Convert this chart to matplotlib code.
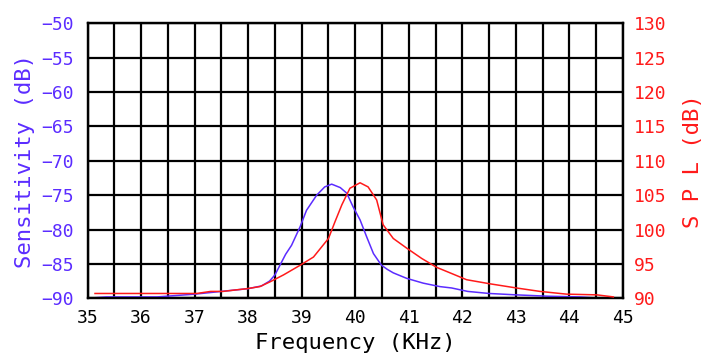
import numpy as np
import matplotlib.pyplot as plt
from matplotlib.ticker import MultipleLocator

freq_s = [35.0, 35.35, 36.3, 37.0, 37.5, 38.0, 38.25, 38.4, 38.5, 38.6, 38.7,
          38.81, 38.97, 39.09, 39.28, 39.43, 39.56, 39.72, 39.84, 39.96, 40.09,
          40.21, 40.34, 40.49, 40.6, 40.71, 40.96, 41.27, 41.58, 41.8, 42.1,
          42.5, 43.0, 43.6, 44.2, 44.6, 45.0]
sens = [-90.0, -89.8, -89.8, -89.4, -89.0, -88.6, -88.2, -87.5, -86.6, -85.1,
        -83.6, -82.3, -79.6, -77.2, -75.0, -73.8, -73.4, -73.9, -74.7, -76.7,
        -78.6, -81.0, -83.5, -85.2, -85.8, -86.3, -87.1, -87.8, -88.3, -88.5,
        -89.0, -89.3, -89.5, -89.7, -89.8, -90.0, -90.0]

freq_p = [35.14, 37.04, 37.3, 37.53, 37.75, 37.98, 38.22, 38.41, 38.66, 38.97,
          39.22, 39.5, 39.62, 39.75, 39.9, 40.09, 40.24, 40.4, 40.52, 40.71,
          40.96, 41.24, 41.52, 41.77, 42.08, 42.52, 43.01, 43.45, 43.95, 44.51,
          44.82]
spl = [90.7, 90.7, 91.0, 91.0, 91.2, 91.4, 91.7, 92.4, 93.4, 94.8,
       96.0, 98.7, 101.1, 103.6, 106.0, 106.8, 106.2, 104.3, 100.7, 98.7,
       97.3, 95.8, 94.5, 93.7, 92.7, 92.1, 91.5, 91.0, 90.6, 90.5,
       90.2]

blue = "#5b2cff"
red = "#ff1a1a"
mono = "DejaVu Sans Mono"

fig = plt.figure(figsize=(7.15, 3.58), dpi=100)
ax = fig.add_axes([0.1224, 0.1668, 0.7489, 0.7682])
ax2 = ax.twinx()

ax.plot(freq_s, sens, color=blue, lw=1.1, zorder=3)
ax2.plot(freq_p, spl, color=red, lw=1.1, zorder=3)

ax.set_xlim(35, 45)
ax.set_ylim(-90, -50)
ax2.set_ylim(90, 130)
ax.xaxis.set_major_locator(MultipleLocator(1))
ax.xaxis.set_minor_locator(MultipleLocator(0.5))
ax.yaxis.set_major_locator(MultipleLocator(5))
ax2.yaxis.set_major_locator(MultipleLocator(5))
ax.grid(True, which="both", color="black", lw=1.6)
ax.set_axisbelow(True)

ax.tick_params(which="both", length=0)
ax2.tick_params(which="both", length=0)
ax.tick_params(axis="x", pad=8, labelsize=13, labelcolor="black")
ax.tick_params(axis="y", pad=10, labelsize=13, labelcolor=blue)
ax2.tick_params(axis="y", pad=8, labelsize=13, labelcolor=red)
for lab in ax.get_xticklabels() + ax.get_yticklabels() + ax2.get_yticklabels():
    lab.set_fontfamily(mono)

for a in (ax, ax2):
    for s in a.spines.values():
        s.set_linewidth(1.6)
        s.set_color("black")

ax.set_xlabel("Frequency (KHz)", fontsize=16, family=mono, labelpad=4)
ax.set_ylabel("Sensitivity (dB)", fontsize=16, family=mono, color=blue, labelpad=4)
ax2.set_ylabel("S P L (dB)", fontsize=16, family=mono, color=red, labelpad=12)

fig.savefig("out.png", dpi=100)
plt.close()
